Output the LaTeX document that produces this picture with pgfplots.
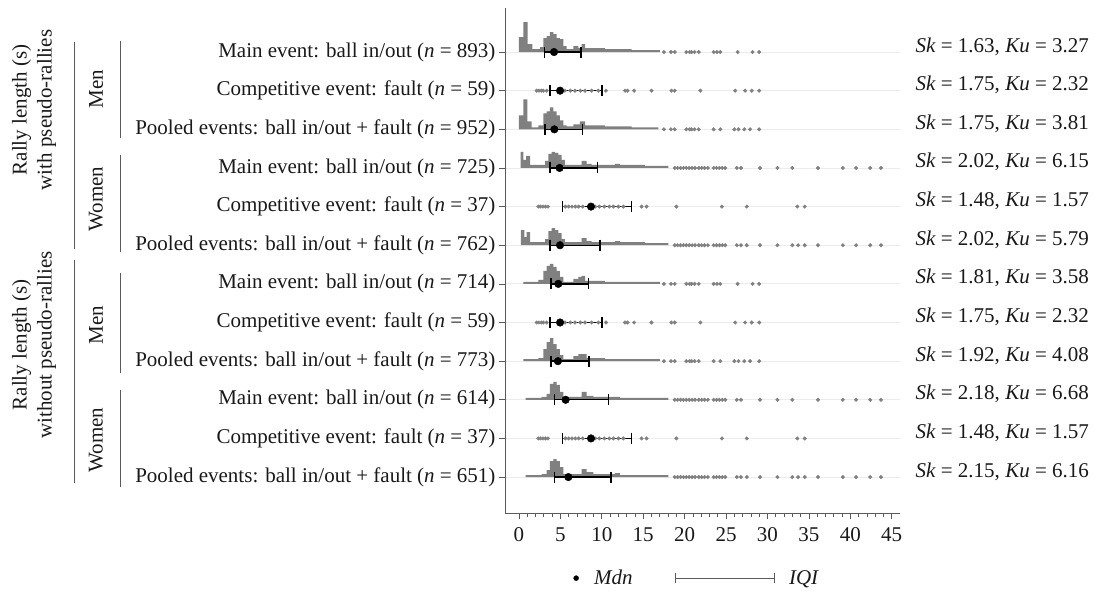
\documentclass[border=0pt]{standalone}
\usepackage{pgfplots}
\pgfplotsset{compat=1.18}
\usepackage{pgfplotstable}
\usepackage{fontspec}
\setmainfont{Liberation Serif}
\usetikzlibrary{arrows.meta}

\definecolor{dens}{RGB}{128,128,128}
\definecolor{gridc}{RGB}{236,236,236}
\definecolor{axc}{RGB}{90,90,90}
\definecolor{txtc}{RGB}{25,25,25}
\newcommand{\fs}{\fontsize{21bp}{25bp}\selectfont}

% density outlines: left bin edge, height in px (row spacing = 38.64 px)
\pgfplotstableread{
x h
0.00 0
0.00 15
0.52 30
1.05 8
1.61 3
2.54 5
2.94 14
3.34 16
3.74 20
4.15 18
4.55 14
4.95 13
5.35 6
5.75 3
6.56 6
7.16 4
7.57 8
7.97 4
10.38 3
13.60 2
17.02 0
}\menA
\pgfplotstableread{
x h
0.00 0
0.00 14
0.52 30
1.01 8
1.53 2
2.33 4
2.94 16
3.34 18
3.74 22
4.15 18
4.55 14
4.95 9
5.35 4
5.75 3
6.56 5
7.36 8
7.97 4
10.38 3
13.60 2
16.82 0
}\menP
\pgfplotstableread{
x h
0.20 0
0.20 16
0.52 8
0.85 12
1.33 3
3.14 7
3.54 14
3.94 16
4.35 15
4.75 13
5.15 8
5.55 3
7.57 7
8.17 4
8.77 3
11.59 4
12.19 3
15.21 2
18.03 0
}\womA
\pgfplotstableread{
x h
0.24 0
0.24 15
0.64 8
0.93 13
1.33 3
3.14 6
3.54 14
3.94 17
4.35 15
4.75 12
5.15 6
5.55 3
7.57 7
8.17 4
8.77 3
11.59 4
12.19 3
15.21 2
18.03 0
}\womP
\pgfplotstableread{
x h
0.52 0
0.52 2
2.33 4
2.94 13
3.34 18
3.74 20
4.15 17
4.55 13
4.95 7
5.35 2
6.56 5
7.16 7
7.57 8
7.97 3
10.38 2
17.02 0
}\menAn
\pgfplotstableread{
x h
0.52 0
0.52 2
2.33 3
2.94 12
3.34 19
3.74 23
4.15 17
4.55 12
4.95 6
5.35 2
6.56 5
7.16 7
8.17 3
10.38 2
17.02 0
}\menPn
\pgfplotstableread{
x h
0.80 0
0.80 2
2.74 3
3.34 6
3.74 16
4.15 18
4.55 15
4.95 8
5.35 3
7.57 8
8.17 4
8.97 3
11.59 3
12.19 2
18.03 0
}\womAn
\pgfplotstableread{
x h
0.80 0
0.80 2
2.74 3
3.34 7
3.74 16
4.15 18
4.55 16
4.95 10
5.35 3
7.57 8
8.17 5
8.97 3
11.59 4
12.19 2
18.03 0
}\womPn

% median and interquartile interval per row (k = 12 is the top row)
\pgfplotstableread{
k med lo hi
12 4.23 3.06 7.50
11 4.96 3.75 10.00
10 4.27 3.14 7.69
9 4.90 3.74 9.50
8 8.69 5.27 13.60
7 4.95 3.74 9.78
6 4.75 3.85 8.37
5 4.96 3.75 10.00
4 4.70 3.85 8.45
3 5.63 4.27 10.80
2 8.69 5.27 13.60
1 5.96 4.27 11.10
}\stats

\newcommand{\dens}[2]{\addplot[forget plot, const plot, fill=dens, draw=none] table[x=x, y expr=#2+\thisrow{h}/38.64] {#1};}
\newcommand{\skku}[3]{\node[anchor=base west, font=\fs, text=txtc, xshift=12bp, yshift=0bp] at (axis cs:46,#1) {\textit{Sk} = #2, \textit{Ku} = #3};}
\pgfplotsset{dots/.style={forget plot, only marks, mark=*, mark size=1.8bp, dens}}

\begin{document}
\begin{tikzpicture}[font=\fs]
\useasboundingbox (0,0) rectangle (1094bp,599bp);
\begin{axis}[
  at={(505bp,86bp)}, anchor=south west, scale only axis,
  width=395bp, height=505bp,
  xmin=-1.69, xmax=46, ymin=0.07, ymax=13.14,
  axis x line*=bottom, axis y line*=left,
  axis line style={axc, line width=0.8bp},
  xtick={0,5,...,45}, minor x tick num=4,
  ytick={1,...,12},
  yticklabels={
    {Pooled events: ball in/out + fault (\textit{n} = 651)},
    {Competitive event: fault (\textit{n} = 37)},
    {Main event: ball in/out (\textit{n} = 614)},
    {Pooled events: ball in/out + fault (\textit{n} = 773)},
    {Competitive event: fault (\textit{n} = 59)},
    {Main event: ball in/out (\textit{n} = 714)},
    {Pooled events: ball in/out + fault (\textit{n} = 762)},
    {Competitive event: fault (\textit{n} = 37)},
    {Main event: ball in/out (\textit{n} = 725)},
    {Pooled events: ball in/out + fault (\textit{n} = 952)},
    {Competitive event: fault (\textit{n} = 59)},
    {Main event: ball in/out (\textit{n} = 893)}},
  tick align=outside, major tick length=6bp, minor tick length=3.5bp,
  tick style={axc, line width=0.7bp},
  ymajorgrids, major grid style={gridc, line width=0.8bp},
  ticklabel style={font=\fs, text=txtc},
  xticklabel style={yshift=-5bp},
  /pgf/number format/assume math mode=true,
  clip=false,
  legend style={at={(axis description cs:0.485,-0.129)}, anchor=center, draw=none, fill=none,
    font=\fs, text=txtc, /tikz/every even column/.append style={column sep=40bp}},
  legend columns=2,
]
\dens{\menA}{12}
\dens{\menP}{10}
\dens{\womA}{9}
\dens{\womP}{7}
\dens{\menAn}{6}
\dens{\menPn}{4}
\dens{\womAn}{3}
\dens{\womPn}{1}

% sparse observations
\addplot[dots] coordinates {(17.5,12) (18.35,12) (18.8,12) (20.2,12) (20.6,12) (20.85,12) (21.2,12) (21.7,12) (23.5,12) (23.9,12) (24.3,12) (26.4,12) (28.2,12) (29.0,12)};
\addplot[dots] coordinates {(2.13,11) (2.4,11) (2.7,11) (2.94,11) (3.34,11) (5.55,11) (6.2,11) (6.76,11) (7.4,11) (7.97,11) (8.77,11) (9.58,11) (10.5,11) (12.8,11) (13.1,11) (13.9,11) (16.0,11) (18.4,11) (18.8,11) (21.9,11) (26.1,11) (27.3,11) (28.1,11) (29.0,11)};
\addplot[dots] coordinates {(17.5,10) (18.35,10) (18.8,10) (20.2,10) (20.6,10) (20.85,10) (21.2,10) (21.7,10) (23.5,10) (24.3,10) (26.0,10) (26.5,10) (27.2,10) (27.9,10) (29.0,10)};
\addplot[dots] coordinates {(18.8,9) (19.15,9) (19.5,9) (19.85,9) (20.2,9) (20.55,9) (20.9,9) (21.25,9) (21.7,9) (22.05,9) (22.4,9) (22.8,9) (23.5,9) (23.85,9) (24.2,9) (24.55,9) (24.9,9) (26.3,9) (26.8,9) (29.1,9) (31.2,9) (33.0,9) (36.1,9) (39.1,9) (40.7,9) (42.4,9) (43.7,9)};
\addplot[dots] coordinates {(2.33,8) (2.6,8) (2.9,8) (3.2,8) (3.5,8) (5.6,8) (6.0,8) (6.4,8) (6.8,8) (7.2,8) (7.7,8) (9.2,8) (9.7,8) (10.3,8) (10.9,8) (11.4,8) (12.0,8) (12.6,8) (14.8,8) (15.4,8) (19.0,8) (24.5,8) (27.5,8) (33.6,8) (34.5,8)};
\addplot[dots] coordinates {(18.8,7) (19.15,7) (19.5,7) (19.85,7) (20.2,7) (20.55,7) (20.9,7) (21.25,7) (21.7,7) (22.05,7) (22.4,7) (22.8,7) (23.5,7) (23.85,7) (24.2,7) (24.55,7) (24.9,7) (26.3,7) (26.8,7) (27.5,7) (29.1,7) (31.2,7) (33.0,7) (33.7,7) (34.5,7) (36.1,7) (39.1,7) (40.7,7) (42.4,7) (43.7,7)};
\addplot[dots] coordinates {(17.5,6) (18.35,6) (18.8,6) (20.2,6) (20.6,6) (20.85,6) (21.2,6) (21.7,6) (23.5,6) (23.9,6) (24.3,6) (26.4,6) (28.2,6) (29.0,6)};
\addplot[dots] coordinates {(2.13,5) (2.4,5) (2.7,5) (2.94,5) (3.34,5) (5.55,5) (6.2,5) (6.76,5) (7.4,5) (7.97,5) (8.77,5) (9.58,5) (10.5,5) (12.8,5) (13.1,5) (13.9,5) (16.0,5) (18.4,5) (18.8,5) (21.9,5) (26.1,5) (27.3,5) (28.1,5) (29.0,5)};
\addplot[dots] coordinates {(17.5,4) (18.35,4) (18.8,4) (20.2,4) (20.6,4) (20.85,4) (21.2,4) (21.7,4) (23.5,4) (24.3,4) (26.0,4) (26.5,4) (27.2,4) (27.9,4) (29.0,4)};
\addplot[dots] coordinates {(18.8,3) (19.15,3) (19.5,3) (19.85,3) (20.2,3) (20.55,3) (20.9,3) (21.25,3) (21.7,3) (22.05,3) (22.4,3) (22.8,3) (23.5,3) (23.85,3) (24.2,3) (24.55,3) (24.9,3) (26.3,3) (26.8,3) (29.1,3) (31.2,3) (33.0,3) (36.1,3) (39.1,3) (40.7,3) (42.4,3) (43.7,3)};
\addplot[dots] coordinates {(2.33,2) (2.6,2) (2.9,2) (3.2,2) (3.5,2) (5.6,2) (6.0,2) (6.4,2) (6.8,2) (7.2,2) (7.7,2) (9.2,2) (9.7,2) (10.3,2) (10.9,2) (11.4,2) (12.0,2) (12.6,2) (14.8,2) (15.4,2) (19.0,2) (24.5,2) (27.5,2) (33.6,2) (34.5,2)};
\addplot[dots] coordinates {(18.8,1) (19.15,1) (19.5,1) (19.85,1) (20.2,1) (20.55,1) (20.9,1) (21.25,1) (21.7,1) (22.05,1) (22.4,1) (22.8,1) (23.5,1) (23.85,1) (24.2,1) (24.55,1) (24.9,1) (26.3,1) (26.8,1) (27.5,1) (29.1,1) (31.2,1) (33.0,1) (33.7,1) (34.5,1) (36.1,1) (39.1,1) (40.7,1) (42.4,1) (43.7,1)};

\addplot[forget plot, only marks, mark=none, black,
  error bars/.cd, x dir=both, x explicit,
  error bar style={black, line width=1.4bp},
  error mark options={black, line width=1.4bp, mark size=5.5bp, rotate=90}]
  table[x=med, y=k, x error plus expr=\thisrow{hi}-\thisrow{med}, x error minus expr=\thisrow{med}-\thisrow{lo}] {\stats};
\addplot[forget plot, only marks, mark=*, mark size=3.8bp, black] table[x=med, y=k] {\stats};

\addlegendimage{legend image code/.code={\path[draw=none, fill=none] (-4bp,0bp) -- (16bp,0bp); \fill[black] (0bp,0bp) circle (2.5bp);}}
\addlegendentry{\textit{Mdn}}
\addlegendimage{legend image code/.code={\path[draw=none, fill=none] (0bp,0bp) -- (112bp,0bp); \draw[axc, line width=0.8bp, {Bar[width=10bp]}-{Bar[width=10bp]}] (0bp,0bp) -- (100bp,0bp);}}
\addlegendentry{\textit{IQI}}

\skku{12}{1.63}{3.27}
\skku{11}{1.75}{2.32}
\skku{10}{1.75}{3.81}
\skku{9}{2.02}{6.15}
\skku{8}{1.48}{1.57}
\skku{7}{2.02}{5.79}
\skku{6}{1.81}{3.58}
\skku{5}{1.75}{2.32}
\skku{4}{1.92}{4.08}
\skku{3}{2.18}{6.68}
\skku{2}{1.48}{1.57}
\skku{1}{2.15}{6.16}
\end{axis}

% group labels and brackets on the left
\begin{scope}[axc, line width=0.8bp]
\draw (74bp,557bp) -- (74bp,350bp);
\draw (74bp,339bp) -- (74bp,116bp);
\draw (120bp,558bp) -- (120bp,461bp);
\draw (120bp,444bp) -- (120bp,347bp);
\draw (120bp,326bp) -- (120bp,226bp);
\draw (120bp,209bp) -- (120bp,112bp);
\end{scope}
\begin{scope}[every node/.style={rotate=90, font=\fs, text=txtc, align=center}]
\node at (34bp,489bp) {Rally length (s)\\with pseudo-rallies};
\node at (34bp,254bp) {Rally length (s)\\without pseudo-rallies};
\node at (96bp,510bp) {Men};
\node at (96bp,400bp) {Women};
\node at (96bp,274bp) {Men};
\node at (96bp,159bp) {Women};
\end{scope}
\end{tikzpicture}
\end{document}
